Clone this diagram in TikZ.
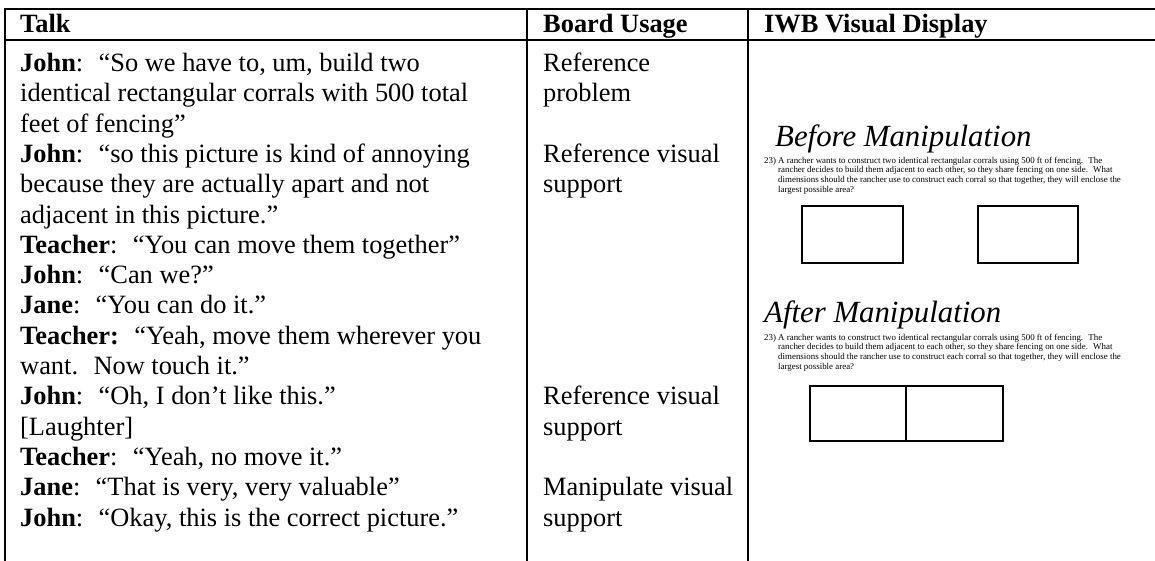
\documentclass[tikz,border=0pt]{standalone}
\usepackage{fontspec}
\setmainfont{Liberation Serif}
\tikzset{
  rule/.style={line width=1.8pt, line cap=rect},
  cell/.style={anchor=base west, inner sep=0pt, font=\fontsize{26.4}{30}\selectfont},
  head/.style={cell, font=\fontsize{26.4}{30}\selectfont\bfseries},
  caption/.style={anchor=base west, inner sep=0pt, font=\fontsize{30.8}{34}\selectfont\itshape},
  fine/.style={anchor=base west, inner sep=0pt, font=\fontsize{8.9}{9.7}\selectfont},
  corral/.style={line width=1.6pt}
}
\newcommand{\spk}[1]{\textbf{#1}}
\begin{document}
\begin{tikzpicture}[x=1pt, y=-1pt]
\useasboundingbox (0,0) rectangle (1155,560);
% table rules
\draw[rule] (5,9) -- (1160,9);
\draw[rule] (5,40) -- (1160,40);
\draw[rule] (5,9) -- (5,565);
\draw[rule] (527,9) -- (527,565);
\draw[rule] (748,9) -- (748,565);
% header
\node[head] (h1) at (20,32) {Talk};
\node[head] (h2) at (543,32) {Board Usage};
\node[head] (h3) at (764,32) {IWB Visual Display};
% talk column
\def\lx{20}
\node[cell] (t1)  at (\lx,71.5)  {\spk{John}:~ ``So we have to, um, build two};
\node[cell] (t2)  at (\lx,101.8) {identical rectangular corrals with 500 total};
\node[cell] (t3)  at (\lx,132.1) {feet of fencing''};
\node[cell] (t4)  at (\lx,162.4) {\spk{John}:~ ``so this picture is kind of annoying};
\node[cell] (t5)  at (\lx,192.7) {because they are actually apart and not};
\node[cell] (t6)  at (\lx,223.0) {adjacent in this picture.''};
\node[cell] (t7)  at (\lx,253.3) {\spk{Teacher}:~ ``You can move them together''};
\node[cell] (t8)  at (\lx,283.6) {\spk{John}:~ ``Can we?''};
\node[cell] (t9)  at (\lx,313.9) {\spk{Jane}:~ ``You can do it.''};
\node[cell] (t10) at (\lx,344.2) {\spk{Teacher:}~ ``Yeah, move them wherever you};
\node[cell] (t11) at (\lx,374.5) {want.~ Now touch it.''};
\node[cell] (t12) at (\lx,404.8) {\spk{John}:~ ``Oh, I don't like this.''};
\node[cell] (t13) at (\lx,435.1) {[Laughter]};
\node[cell] (t14) at (\lx,465.4) {\spk{Teacher}:~ ``Yeah, no move it.''};
\node[cell] (t15) at (\lx,495.7) {\spk{Jane}:~ ``That is very, very valuable''};
\node[cell] (t16) at (\lx,526.0) {\spk{John}:~ ``Okay, this is the correct picture.''};
% board usage column
\def\bx{543}
\node[cell] (b1) at (\bx,71.5)  {Reference};
\node[cell] (b2) at (\bx,101.8) {problem};
\node[cell] (b3) at (\bx,162.4) {Reference visual};
\node[cell] (b4) at (\bx,192.7) {support};
\node[cell] (b5) at (\bx,404.8) {Reference visual};
\node[cell] (b6) at (\bx,435.1) {support};
\node[cell] (b7) at (\bx,495.7) {Manipulate visual};
\node[cell] (b8) at (\bx,526.0) {support};
% IWB display: before
\node[caption] (before) at (775,146) {Before Manipulation};
\node[fine] (p1a) at (764,163)   {23)};
\node[fine] (p1b) at (778,163)   {A rancher wants to construct two identical rectangular corrals using 500 ft of fencing.~ The};
\node[fine] (p1c) at (778,172.7) {rancher decides to build them adjacent to each other, so they share fencing on one side.~ What};
\node[fine] (p1d) at (778,182.4) {dimensions should the rancher use to construct each corral so that together, they will enclose the};
\node[fine] (p1e) at (778,192.1) {largest possible area?};
\draw[corral] (802,206) rectangle (903,263);
\draw[corral] (978,206) rectangle (1078,263);
% IWB display: after
\node[caption] (after) at (764,322) {After Manipulation};
\node[fine] (p2a) at (764,340)   {23)};
\node[fine] (p2b) at (778,340)   {A rancher wants to construct two identical rectangular corrals using 500 ft of fencing.~ The};
\node[fine] (p2c) at (778,349.7) {rancher decides to build them adjacent to each other, so they share fencing on one side.~ What};
\node[fine] (p2d) at (778,359.4) {dimensions should the rancher use to construct each corral so that together, they will enclose the};
\node[fine] (p2e) at (778,369.1) {largest possible area?};
\draw[corral] (810,386) rectangle (1003,441);
\draw[corral] (906,386) -- (906,441);
\end{tikzpicture}
\end{document}
